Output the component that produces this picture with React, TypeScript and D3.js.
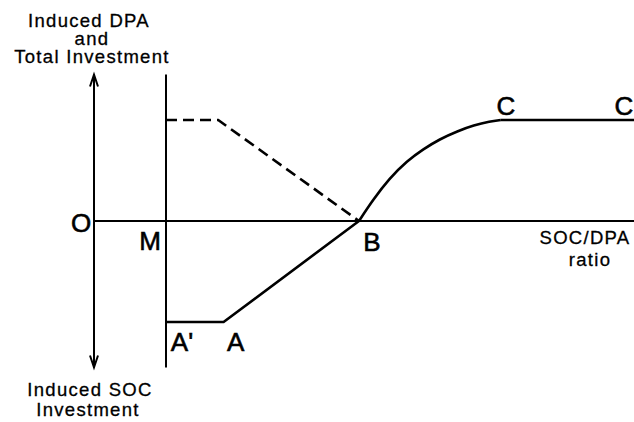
import React from "react";
import * as d3 from "d3";

const WIDTH = 634;
const HEIGHT = 422;

// schematic units: x = SOC/DPA ratio, y = investment (+ DPA/total, - SOC)
const xDomain = [0, 15];
const yLevels = [-5, 5];
const axisArrowY = [-7.25, 7.25];
const mRatio = 2;
const bRatio = 7.36;

// dashed: induced DPA investment
const dpaPoints: [number, number][] = [
  [2, 5],
  [3.45, 5],
  [7.36, 0],
];

// solid: induced SOC investment (A' -> A -> B)
const socPoints: [number, number][] = [
  [2, -5],
  [3.6, -5],
  [7.36, 0],
];

// solid: total investment, curved part B -> C
const totalCurvePoints: [number, number][] = [
  [7.36, 0],
  [7.75, 1.05],
  [8.2, 2.1],
  [8.7, 2.98],
  [9.15, 3.56],
  [9.6, 4.05],
  [10.1, 4.45],
  [10.55, 4.74],
  [11.0, 4.93],
  [11.3, 5.0],
];

// flat part C -> C
const totalFlatPoints: [number, number][] = [
  [11.3, 5.0],
  [15, 5.0],
];

const FONT = "'Liberation Sans', Arial, sans-serif";

function App() {
  const x = d3.scaleLinear().domain(xDomain).range([94, 634]);
  const y = d3.scaleLinear().domain(yLevels).range([322, 120]);

  const line = d3
    .line<[number, number]>()
    .x((d) => x(d[0]))
    .y((d) => y(d[1]));
  const curve = d3
    .line<[number, number]>()
    .x((d) => x(d[0]))
    .y((d) => y(d[1]))
    .curve(d3.curveBasis);

  const ox = x(0);
  const oy = y(0);
  const top = y(axisArrowY[1]);
  const bottom = y(axisArrowY[0]);

  const label = {
    fontFamily: FONT,
    fontSize: 18.5,
    letterSpacing: 1.3,
    fill: "#000",
    stroke: "#000",
    strokeWidth: 0.3,
  };
  const letter = {
    fontFamily: FONT,
    fontSize: 26,
    fill: "#000",
    stroke: "#000",
    strokeWidth: 0.6,
  };

  return (
    <div style={{ position: "absolute", left: 0, top: 0 }}>
      <svg width={WIDTH} height={HEIGHT} style={{ background: "#fff", display: "block" }}>
        {/* left double arrow axis */}
        <line x1={ox} x2={ox} y1={top} y2={bottom} stroke="#000" strokeWidth={2} />
        <path
          d={`M${ox - 4},${top + 12}L${ox},${top}L${ox + 4},${top + 12}`}
          fill="none"
          stroke="#000"
          strokeWidth={2}
        />
        <path
          d={`M${ox - 4},${bottom - 12}L${ox},${bottom}L${ox + 4},${bottom - 12}`}
          fill="none"
          stroke="#000"
          strokeWidth={2}
        />
        {/* horizontal axis */}
        <line x1={ox} x2={x(xDomain[1])} y1={oy} y2={oy} stroke="#000" strokeWidth={2} />
        {/* M vertical */}
        <line x1={x(mRatio)} x2={x(mRatio)} y1={top} y2={bottom} stroke="#000" strokeWidth={2} />

        <path d={line(dpaPoints) || ""} fill="none" stroke="#000" strokeWidth={2.6} strokeDasharray="11,6" />
        <path d={line(socPoints) || ""} fill="none" stroke="#000" strokeWidth={2.6} />
        <path d={curve(totalCurvePoints) || ""} fill="none" stroke="#000" strokeWidth={2.6} />
        <path d={line(totalFlatPoints) || ""} fill="none" stroke="#000" strokeWidth={2.6} />

        {/* axis titles */}
        <text x={89} y={27} textAnchor="middle" style={label}>Induced DPA</text>
        <text x={92} y={45} textAnchor="middle" style={label}>and</text>
        <text x={92} y={63} textAnchor="middle" style={label}>Total Investment</text>
        <text x={90} y={396} textAnchor="middle" style={label}>Induced SOC</text>
        <text x={88} y={416} textAnchor="middle" style={label}>Investment</text>
        <text x={585} y={244} textAnchor="middle" style={label}>SOC/DPA</text>
        <text x={590} y={266} textAnchor="middle" style={label}>ratio</text>

        {/* point letters */}
        <text x={ox - 13} y={oy + 11} textAnchor="middle" style={letter}>O</text>
        <text x={x(mRatio) - 16} y={oy + 29} textAnchor="middle" style={letter}>M</text>
        <text x={x(bRatio) + 13} y={oy + 30} textAnchor="middle" style={letter}>B</text>
        <text x={x(socPoints[0][0]) + 16} y={y(-5) + 29} textAnchor="middle" style={letter}>A'</text>
        <text x={x(socPoints[1][0]) + 12} y={y(-5) + 29} textAnchor="middle" style={letter}>A</text>
        <text x={x(11.3) + 5} y={y(5) - 5} textAnchor="middle" style={letter}>C</text>
        <text x={x(15) - 10} y={y(5) - 5} textAnchor="middle" style={letter}>C</text>
      </svg>
    </div>
  );
}

export default App;
